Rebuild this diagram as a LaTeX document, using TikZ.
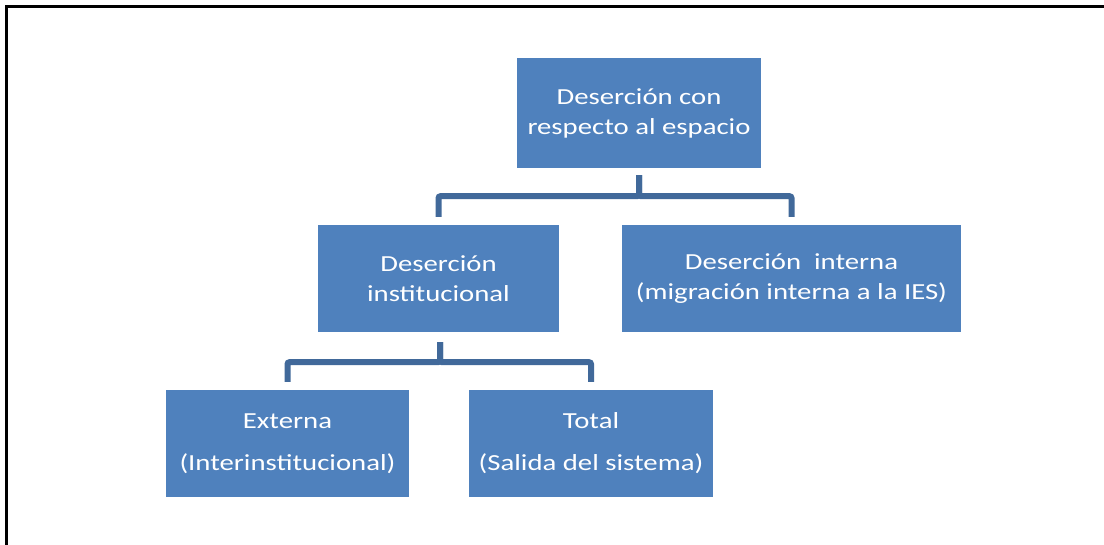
\documentclass[tikz,border=0pt]{standalone}
\usepackage{fontspec}
\setmainfont{Carlito}[FakeStretch=1.25]
\definecolor{boxblue}{HTML}{4F81BD}
\definecolor{linkblue}{HTML}{41699A}
\begin{document}
\begin{tikzpicture}[x=1pt,y=-1pt,
  box/.style={fill=boxblue, draw=none, text=white, align=center, inner sep=0pt,
    font=\fontsize{23}{30}\selectfont},
  link/.style={draw=linkblue, line width=6pt, rounded corners=2pt}]
\useasboundingbox (0,0) rectangle (1104,545);
\draw[line width=2.5pt] (6.5,545) -- (6.5,6.3) -- (1104,6.3);

\node[box, minimum width=244pt, minimum height=110pt] (top) at (639,113)
  {Deserción con\\respecto al espacio};
\node[box, minimum width=241pt, minimum height=107pt] (inst) at (438.5,278.5)
  {Deserción\\institucional};
\node[box, minimum width=339pt, minimum height=107pt] (intern) at (791.5,278.5)
  {Deserción\ \ interna\\(migración interna a la IES)};
\node[box, minimum width=243pt, minimum height=107pt] (ext) at (287.5,443.5)
  {Externa\\[12pt](Interinstitucional)};
\node[box, minimum width=244pt, minimum height=107pt] (tot) at (591,443.5)
  {Total\\[12pt](Salida del sistema)};

\draw[link] ([yshift=-7pt]top.south) -- ++(0,21) -| ([yshift=8pt]inst.north);
\draw[link] ([yshift=-7pt]top.south) -- ++(0,21) -| ([yshift=8pt]intern.north);
\draw[link] ([xshift=1.5pt,yshift=-10pt]inst.south) -- ++(0,20) -| ([yshift=8pt]ext.north);
\draw[link] ([xshift=1.5pt,yshift=-10pt]inst.south) -- ++(0,20) -| ([yshift=8pt]tot.north);
\end{tikzpicture}
\end{document}
